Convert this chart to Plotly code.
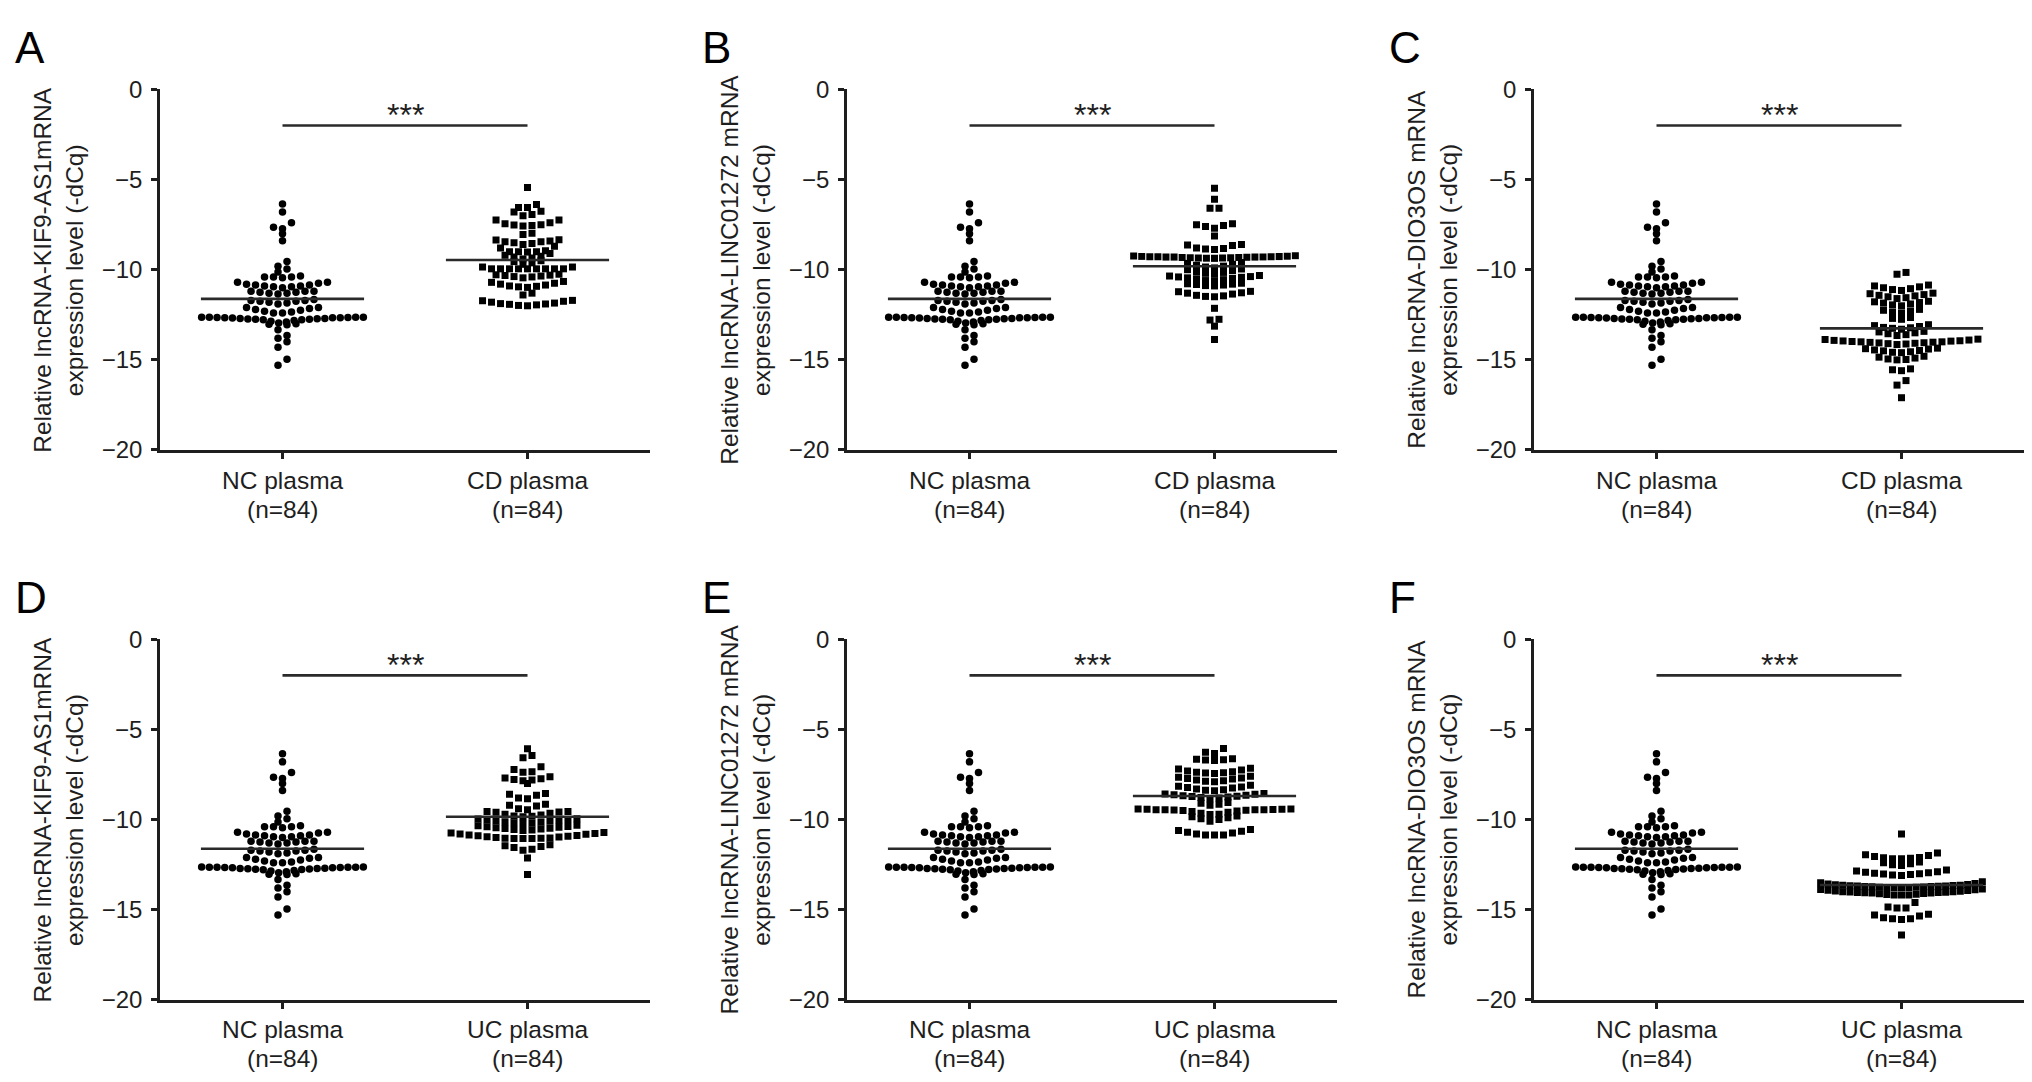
import numpy as np
import plotly.graph_objects as go

# ---------------- data ----------------
NC_PLASMA = [
    -6.35, -6.8, -7.39, -7.65, -7.72, -8.0, -8.39,
    -9.54, -9.8, -9.96, -10.13, -10.4, -10.4, -10.35, -10.45, -10.4,
    -10.7, -10.75, -10.85, -10.9, -10.95, -11.0, -10.95, -10.9, -10.85, -10.8, -10.7,
    -11.2, -11.25, -11.3, -11.2, -11.3, -11.25, -11.35, -11.2,
    -11.65, -11.7, -11.75, -11.8, -11.7, -11.85, -11.9, -11.75,
    -12.1, -12.1, -12.15, -12.2, -12.25, -12.3, -12.35, -12.4, -12.4,
    -12.63, -12.63, -12.64, -12.64, -12.65, -12.65, -12.66, -12.66, -12.67, -12.68,
    -12.7, -12.71, -12.72, -12.73, -12.74, -12.75, -12.77, -12.78, -12.82, -12.86,
    -12.9, -12.95, -13.0, -13.03, -13.05,
    -13.33, -13.65, -13.8, -14.0, -14.3, -14.96, -15.3,
]

CD_KIF9 = [
    -5.44,
    -6.38, -6.55, -6.55,
    -6.75, -6.8, -6.93, -7.0,
    -7.24, -7.24, -7.4, -7.45, -7.5, -7.52, -7.55, -7.57,
    -7.98, -8.05,
    -8.33, -8.35, -8.4, -8.45, -8.45, -8.5, -8.55, -8.6,
    -8.7, -8.8, -8.95, -9.0, -9.0, -9.0, -9.02,
    -9.1, -9.2, -9.25, -9.3, -9.35, -9.4,
    -9.5, -9.55, -9.62, -9.7,
    -9.85, -9.85, -9.95, -9.95, -9.95, -9.95, -9.95, -9.95, -9.95, -9.95, -9.95,
    -10.25, -10.28, -10.3, -10.32, -10.35, -10.38, -10.4, -10.45,
    -10.65, -10.7, -10.75, -10.8, -10.85, -10.9, -10.92, -10.95, -10.98,
    -11.3, -11.4,
    -11.7, -11.72, -11.75, -11.85, -11.9, -11.95, -12.0, -11.98, -11.92, -11.88, -11.8,
]

CD_LINC = [
    -5.48, -6.09, -6.59, -6.59,
    -7.45, -7.5, -7.55, -7.6, -7.7,
    -8.13,
    -8.6, -8.63, -8.66, -8.8, -8.82, -8.85, -8.88,
    -9.22, -9.24, -9.25, -9.26, -9.27, -9.28, -9.28, -9.28, -9.29, -9.3, -9.3,
    -9.3, -9.31, -9.32, -9.32, -9.33, -9.34, -9.35, -9.35, -9.36, -9.37,
    -9.6, -9.65, -9.7, -9.75, -9.8, -9.85, -9.9,
    -9.96, -10.0, -10.05, -10.1, -10.15, -10.2, -10.25,
    -10.32, -10.35, -10.38, -10.4, -10.42, -10.45, -10.48, -10.5, -10.55, -10.6, -10.62,
    -10.75, -10.78, -10.8, -10.82, -10.85, -10.88, -10.9,
    -11.2, -11.22, -11.28, -11.35, -11.42, -11.48, -11.5, -11.45, -11.3,
    -12.14, -12.75, -12.79, -13.13, -13.87,
]

CD_DIO3OS = [
    -10.15, -10.25,
    -10.85, -10.9, -10.95, -11.0, -11.05, -11.1, -11.15,
    -11.3, -11.33, -11.38, -11.42, -11.45, -11.5, -11.55, -11.6,
    -11.75, -11.78, -11.82, -11.85, -11.9, -11.95, -12.0,
    -12.2, -12.25, -12.3, -12.35, -12.4,
    -12.65, -12.7, -12.75,
    -13.05, -13.1, -13.15, -13.2, -13.22, -13.25, -13.3,
    -13.42, -13.45, -13.5, -13.55, -13.6, -13.65,
    -13.85, -13.87, -13.9, -13.92, -13.94, -13.95, -13.96, -13.98, -14.0, -14.0,
    -14.02, -14.03, -14.05, -14.06, -14.08, -14.1, -14.12, -14.15,
    -14.35, -14.38, -14.4, -14.45, -14.48, -14.5, -14.55, -14.58, -14.6,
    -14.8, -14.85, -14.9, -14.95, -14.98, -15.0,
    -15.5, -15.55, -15.6,
    -16.15, -16.4, -17.1,
]

UC_KIF9 = [
    -6.07, -6.44, -6.57,
    -7.07, -7.22, -7.35, -7.38,
    -7.63, -7.69, -7.74, -7.78, -7.8, -7.85,
    -8.0,
    -8.55, -8.6, -8.65, -8.8, -8.85,
    -9.15, -9.2, -9.25, -9.4, -9.45,
    -9.55, -9.55, -9.58, -9.6, -9.65, -9.7, -9.75, -9.8, -9.82, -9.85,
    -9.95, -9.97, -10.0, -10.02, -10.05, -10.08, -10.1, -10.12, -10.15, -10.18, -10.2, -10.22,
    -10.32, -10.35, -10.38, -10.4, -10.42, -10.45, -10.48, -10.5, -10.52, -10.55, -10.58, -10.6,
    -10.72, -10.75, -10.78, -10.8, -10.82, -10.85, -10.88, -10.9, -10.92, -10.95,
    -10.97, -11.0, -11.02, -11.03, -11.04, -11.05, -11.05, -11.05,
    -11.4, -11.45, -11.5, -11.55, -11.65, -11.7,
    -12.13, -13.05,
]

UC_LINC = [
    -6.06, -6.26, -6.33,
    -6.63, -6.65, -6.68, -6.7, -6.72,
    -7.15, -7.2, -7.25, -7.3, -7.35, -7.38, -7.4, -7.42, -7.45,
    -7.6, -7.65, -7.7, -7.72, -7.75, -7.8, -7.85, -7.88, -7.9,
    -8.1, -8.15, -8.2, -8.22, -8.25, -8.3, -8.35, -8.38, -8.4,
    -8.55, -8.58, -8.6, -8.62, -8.65, -8.68, -8.7, -8.72, -8.75, -8.78, -8.8, -8.85,
    -9.05, -9.1, -9.15, -9.2,
    -9.42, -9.42, -9.43, -9.43, -9.44, -9.45, -9.45, -9.46, -9.46, -9.47, -9.48, -9.5,
    -9.52, -9.55, -9.6, -9.65, -9.7, -9.72,
    -9.8, -9.85, -9.9, -9.95, -10.0, -10.1,
    -10.55, -10.6, -10.65, -10.7, -10.75, -10.8, -10.85, -10.85, -10.85,
]

UC_DIO3OS = [
    -10.8,
    -11.85, -11.95, -12.0, -12.05, -12.1, -12.12, -12.15, -12.17, -12.18,
    -12.35, -12.4, -12.45, -12.5, -12.55,
    -12.8, -12.85, -12.9, -12.92, -12.95, -12.98, -13.0, -13.02, -13.05, -13.08, -13.1,
    -13.45, -13.5, -13.55, -13.58, -13.6, -13.62, -13.64, -13.65, -13.66, -13.67, -13.68,
    -13.69, -13.7, -13.71, -13.72, -13.73, -13.74, -13.75, -13.76, -13.77, -13.78, -13.78,
    -13.78,
    -13.85, -13.88, -13.9, -13.92, -13.94, -13.96, -13.98, -14.0, -14.01, -14.02, -14.03,
    -14.04, -14.05, -14.06, -14.07, -14.08, -14.1, -14.12, -14.14, -14.16, -14.18, -14.18,
    -14.18,
    -14.6, -14.85, -14.9, -14.9,
    -15.25, -15.3, -15.35, -15.45, -15.5, -15.5, -15.55,
    -16.4,
]

PANEL_LETTERS = ["A", "B", "C", "D", "E", "F"]
GENE_TITLES = ["Relative lncRNA-KIF9-AS1mRNA", "Relative lncRNA-LINC01272 mRNA",
               "Relative lncRNA-DIO3OS mRNA"] * 2
Y_TITLE_LINE2 = "expression level (-dCq)"
GROUP_NAMES = ["CD plasma"] * 3 + ["UC plasma"] * 3
GROUP_VALUES = [CD_KIF9, CD_LINC, CD_DIO3OS, UC_KIF9, UC_LINC, UC_DIO3OS]
N_LABEL = "(n=84)"
Y_TICKS = [0, -5, -10, -15, -20]
SIG_TEXT = "***"

# ---------------- layout helpers ----------------
W, H = 2016, 1092
FONT = "Liberation Sans, Arial, sans-serif"
INK = "#1e1e1e"


def fig_x(px):      # target-image pixel -> figure pixel (horizontal)
    return px - 5


def fig_y(py):      # target-image pixel -> figure pixel (vertical)
    return 1.0269 * py - 21.2


def fx(px):
    return fig_x(px) / W


def fy(py):
    return min(1.0, 1 - fig_y(py) / H)


def swarm_offsets(vals, tol=0.34, step=0.0367, maxhalf=0.33):
    """GraphPad-like scatter-dot layout: group close values into rows,
    spread each row horizontally, lowest values in the middle."""
    v = np.asarray(vals, float)
    order = np.argsort(-v, kind="stable")
    rows, cur, start = [], [order[0]], v[order[0]]
    for idx in order[1:]:
        if start - v[idx] <= tol + 1e-6:
            cur.append(idx)
        else:
            rows.append(cur)
            cur, start = [idx], v[idx]
    rows.append(cur)
    x = np.zeros(len(v))
    for row in rows:
        n = len(row)
        s = step if (n - 1) * step <= 2 * maxhalf else 2 * maxhalf / (n - 1)
        slots = (np.arange(n) - (n - 1) / 2.0) * s
        slot_order = sorted(range(n), key=lambda k: (abs(slots[k]), slots[k]))
        row_sorted = sorted(row, key=lambda k: v[k])
        for r, k in zip(row_sorted, slot_order):
            x[r] = slots[k]
    return x


fig = go.Figure()
layout = dict(width=W, height=H, autosize=False, margin=dict(l=0, r=0, t=0, b=0, pad=0),
              paper_bgcolor="white", plot_bgcolor="white", showlegend=False,
              font=dict(family=FONT, color=INK, size=24))
annotations = []

COL_PITCH = 687
ROW_PITCH = 549
LETTER_TOP = 21.0
for p in range(6):
    row, col = divmod(p, 3)
    ax = "" if p == 0 else str(p + 1)
    x0px = 157 + col * COL_PITCH
    x1px = x0px + 490
    ytop_px = 88 + row * ROW_PITCH
    ybot_px = ytop_px + 360

    layout["xaxis" + ax] = dict(
        domain=[fx(x0px), min(fx(x1px), 1.0)], anchor="y" + ax, range=[0.5, 2.5],
        showgrid=False, zeroline=False, showline=True, linewidth=2.5, linecolor=INK,
        ticks="outside", ticklen=6, tickwidth=2.5, tickcolor=INK, tickvals=[1, 2],
        showticklabels=False, fixedrange=True)
    layout["yaxis" + ax] = dict(
        domain=[fy(ybot_px), fy(ytop_px)], anchor="x" + ax, range=[-20, 0], showgrid=False,
        zeroline=False, showline=True, linewidth=2.5, linecolor=INK, ticks="outside",
        ticklen=6, tickwidth=2.5, tickcolor=INK, tickvals=Y_TICKS,
        tickfont=dict(size=24, color=INK, family=FONT), ticklabelstandoff=4,
        fixedrange=True)

    xref, yref = "x" + ax, "y" + ax
    vals = GROUP_VALUES[p]

    fig.add_trace(go.Scatter(
        x=1 + swarm_offsets(NC_PLASMA), y=NC_PLASMA, mode="markers", xaxis=xref, yaxis=yref,
        marker=dict(symbol="circle", size=7.5, color="black", line=dict(width=0)),
        hoverinfo="y"))
    fig.add_trace(go.Scatter(
        x=2 + swarm_offsets(vals), y=vals, mode="markers", xaxis=xref, yaxis=yref,
        marker=dict(symbol="square", size=7, color="black", line=dict(width=0)),
        hoverinfo="y"))

    m1, m2 = float(np.mean(NC_PLASMA)), float(np.mean(vals))
    fig.add_trace(go.Scatter(
        x=[1 - 0.333, 1 + 0.333, None, 2 - 0.333, 2 + 0.333], y=[m1, m1, None, m2, m2],
        mode="lines", xaxis=xref, yaxis=yref, line=dict(color="#2a2a2a", width=2.6),
        hoverinfo="skip"))

    fig.add_trace(go.Scatter(
        x=[1, 2], y=[-2.0, -2.0], mode="lines", xaxis=xref, yaxis=yref,
        line=dict(color="#2a2a2a", width=2.6), hoverinfo="skip"))
    annotations.append(dict(
        x=1.5, y=-1.4, xref=xref, yref=yref, text=SIG_TEXT, showarrow=False,
        xanchor="center", yanchor="middle", font=dict(size=32, color=INK, family=FONT)))

    for cx, name in [(1, "NC plasma"), (2, GROUP_NAMES[p])]:
        annotations.append(dict(
            x=cx, y=fy(ybot_px + 30), xref=xref, yref="paper", text=name,
            showarrow=False, xanchor="center", yanchor="middle",
            font=dict(size=24.5, color=INK, family=FONT)))
        annotations.append(dict(
            x=cx, y=fy(ybot_px + 59), xref=xref, yref="paper", text=N_LABEL,
            showarrow=False, xanchor="center", yanchor="middle",
            font=dict(size=24.5, color=INK, family=FONT)))

    annotations.append(dict(
        x=fx(x0px - 101), y=fy(ytop_px + 180), xref="paper", yref="paper",
        text=GENE_TITLES[p] + "<br>" + Y_TITLE_LINE2, textangle=-90, showarrow=False,
        xanchor="center", yanchor="middle", font=dict(size=24.5, color=INK, family=FONT)))

    annotations.append(dict(
        x=fx(11 + col * COL_PITCH), y=fy(LETTER_TOP + row * ROW_PITCH), xref="paper",
        yref="paper", text=PANEL_LETTERS[p], showarrow=False, xanchor="left",
        yanchor="top", borderpad=0, font=dict(size=44, color="black", family=FONT)))

layout["annotations"] = annotations
fig.update_layout(**layout)
fig.write_html("out.html")
